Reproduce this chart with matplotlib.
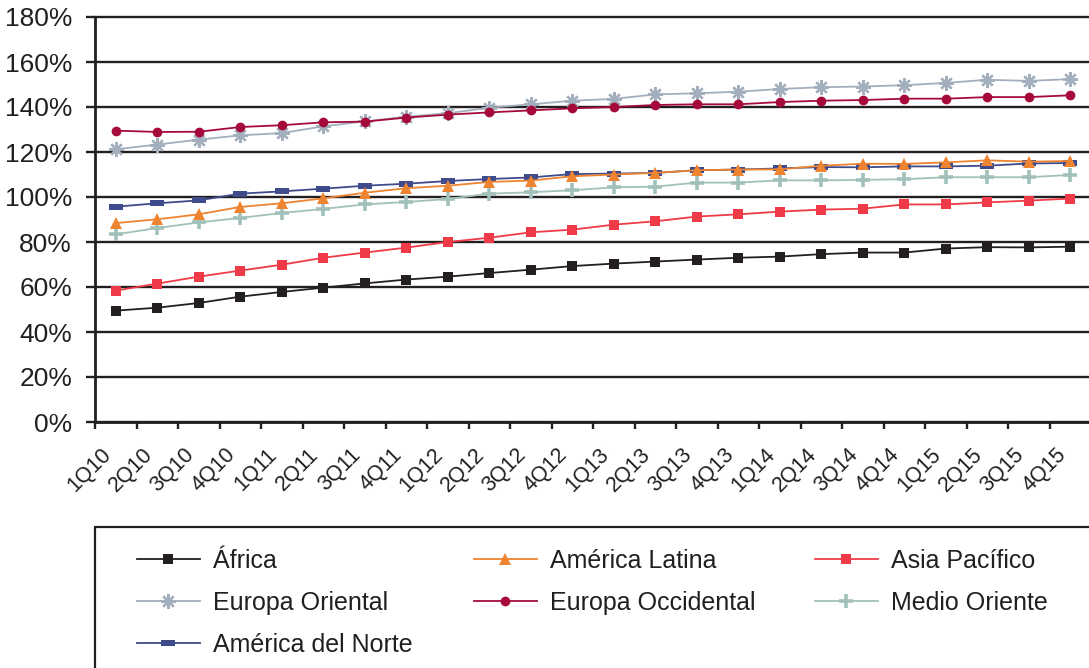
import matplotlib
matplotlib.use("Agg")
import matplotlib.pyplot as plt
import matplotlib.transforms as mtransforms
from matplotlib.patches import Rectangle
import numpy as np

plt.rcParams['font.family'] = ['Liberation Sans', 'DejaVu Sans']

quarters = ['1Q10', '2Q10', '3Q10', '4Q10', '1Q11', '2Q11', '3Q11', '4Q11',
            '1Q12', '2Q12', '3Q12', '4Q12', '1Q13', '2Q13', '3Q13', '4Q13',
            '1Q14', '2Q14', '3Q14', '4Q14', '1Q15', '2Q15', '3Q15', '4Q15']

africa = [49.5, 50.8, 52.9, 55.7, 57.8, 59.7, 61.6, 63.3, 64.6, 66.2, 67.7, 69.3,
          70.4, 71.3, 72.2, 73.0, 73.5, 74.6, 75.3, 75.3, 77.1, 77.7, 77.6, 77.9]
america_latina = [88.4, 90.1, 92.3, 95.6, 97.2, 99.4, 101.9, 103.9, 105.0, 106.7, 107.3, 109.2,
                  110.0, 110.7, 111.9, 112.2, 112.3, 113.9, 114.8, 114.7, 115.4, 116.3, 115.7, 116.0]
asia_pacifico = [58.4, 61.5, 64.6, 67.3, 69.9, 73.0, 75.3, 77.5, 80.0, 81.9, 84.3, 85.5,
                 87.7, 89.2, 91.3, 92.3, 93.5, 94.4, 94.8, 96.7, 96.7, 97.6, 98.4, 99.3]
europa_oriental = [121.2, 123.3, 125.5, 127.4, 128.4, 131.4, 133.6, 135.7, 137.2, 139.7, 141.2, 142.8,
                   143.6, 145.6, 146.1, 146.8, 148.0, 148.8, 149.1, 149.7, 150.7, 152.1, 151.6, 152.4]
europa_occidental = [129.5, 128.9, 129.0, 131.1, 131.9, 133.2, 133.5, 135.3, 136.6, 137.6, 138.5, 139.4,
                     140.0, 140.9, 141.2, 141.2, 142.2, 142.8, 143.1, 143.7, 143.7, 144.4, 144.4, 145.2]
medio_oriente = [83.4, 86.2, 88.7, 90.7, 92.9, 94.7, 96.7, 97.8, 99.1, 101.5, 102.1, 103.0,
                 104.3, 104.6, 106.4, 106.4, 107.4, 107.4, 107.6, 107.9, 108.8, 108.8, 108.8, 109.8]
america_norte = [95.7, 97.2, 98.5, 101.5, 102.5, 103.7, 105.0, 105.9, 107.1, 108.0, 108.7, 110.2,
                 110.4, 110.7, 111.9, 112.2, 112.7, 113.3, 113.2, 113.6, 113.6, 113.9, 114.9, 115.1]

y_ticks = [0, 20, 40, 60, 80, 100, 120, 140, 160, 180]

DARK = '#231f20'
rect_marker = [(-1, -0.38), (1, -0.38), (1, 0.38), (-1, 0.38), (-1, -0.38)]

series = [
    ('África', africa, dict(color=DARK, marker='s', ms=7, mew=0)),
    ('América Latina', america_latina, dict(color='#ee8330', marker='^', ms=8.5, mew=0)),
    ('Asia Pacífico', asia_pacifico, dict(color='#ef3b48', marker='s', ms=7.5, mew=0)),
    ('Europa Oriental', europa_oriental, dict(color='#a3afbc', marker=(8, 2, 0), ms=10.5, mew=1.7)),
    ('Europa Occidental', europa_occidental, dict(color='#a50a3b', marker='o', ms=7, mew=0)),
    ('Medio Oriente', medio_oriente, dict(color='#a2c1bb', marker='+', ms=10, mew=2.6)),
    ('América del Norte', america_norte, dict(color='#3f4b8a', marker=rect_marker, ms=10, mew=0)),
]
zorders = {'América del Norte': 3, 'América Latina': 4}

W, H = 1089, 668
fig = plt.figure(figsize=(W / 100, H / 100), dpi=100)
left, right, top, bottom = 95, 1091, 17, 422
ax = fig.add_axes([left / W, 1 - bottom / H, (right - left) / W, (bottom - top) / H])

x = np.arange(len(quarters)) + 0.5
handles = {}
for name, vals, st in series:
    ln, = ax.plot(x, vals, lw=1.3, zorder=zorders.get(name, 3.5), clip_on=False, **st)
    handles[name] = ln

ax.set_xlim(0, len(quarters))
ax.set_ylim(0, 180)
ax.set_yticks(y_ticks)
ax.set_yticklabels([f'{v}%' for v in y_ticks], fontsize=19, color=DARK)
ax.yaxis.grid(True, color=DARK, lw=1.7)
for gl in ax.get_ygridlines():
    gl.set_clip_on(False)
ax.set_axisbelow(True)
ax.tick_params(axis='y', direction='out', length=6.5, width=1.7, color=DARK, pad=10)

# boundary ticks between quarters, labels centred on each quarter
ax.set_xticks(np.arange(len(quarters)))
ax.set_xticklabels([])
ax.tick_params(axis='x', which='major', direction='out', length=5, width=1.7, color=DARK)
ax.set_xticks(x, minor=True)
ax.set_xticklabels(quarters, minor=True, fontsize=15.5, color=DARK,
                   rotation=45, ha='right', va='top', rotation_mode='anchor')
ax.tick_params(axis='x', which='minor', length=0, pad=16)
shift = mtransforms.ScaledTranslation(-15 / 100, 0, fig.dpi_scale_trans)
for lbl in ax.get_xticklabels(minor=True):
    lbl.set_transform(lbl.get_transform() + shift)

for s in ['top', 'right']:
    ax.spines[s].set_visible(False)
ax.spines['left'].set_linewidth(2)
ax.spines['left'].set_color(DARK)
ax.spines['bottom'].set_linewidth(2)
ax.spines['bottom'].set_color(DARK)

# legend frame running off the lower and right edges
fig.add_artist(Rectangle((left / W, -0.2), 1.0, (H - 527) / H + 0.2,
                         transform=fig.transFigure, fill=False,
                         edgecolor=DARK, lw=1.6, clip_on=False))

columns = [
    (137, ['África', 'Europa Oriental', 'América del Norte']),
    (474, ['América Latina', 'Europa Occidental']),
    (815, ['Asia Pacífico', 'Medio Oriente']),
]
for xpx, names in columns:
    leg = fig.legend([handles[n] for n in names], names, loc='upper left',
                     bbox_to_anchor=(xpx / W, 1 - 549 / H), frameon=False,
                     fontsize=18, borderpad=0, borderaxespad=0,
                     handlelength=2.5, handletextpad=0.55, labelspacing=0.72)
    for t in leg.get_texts():
        t.set_color(DARK)

fig.savefig('out.png', dpi=100)
